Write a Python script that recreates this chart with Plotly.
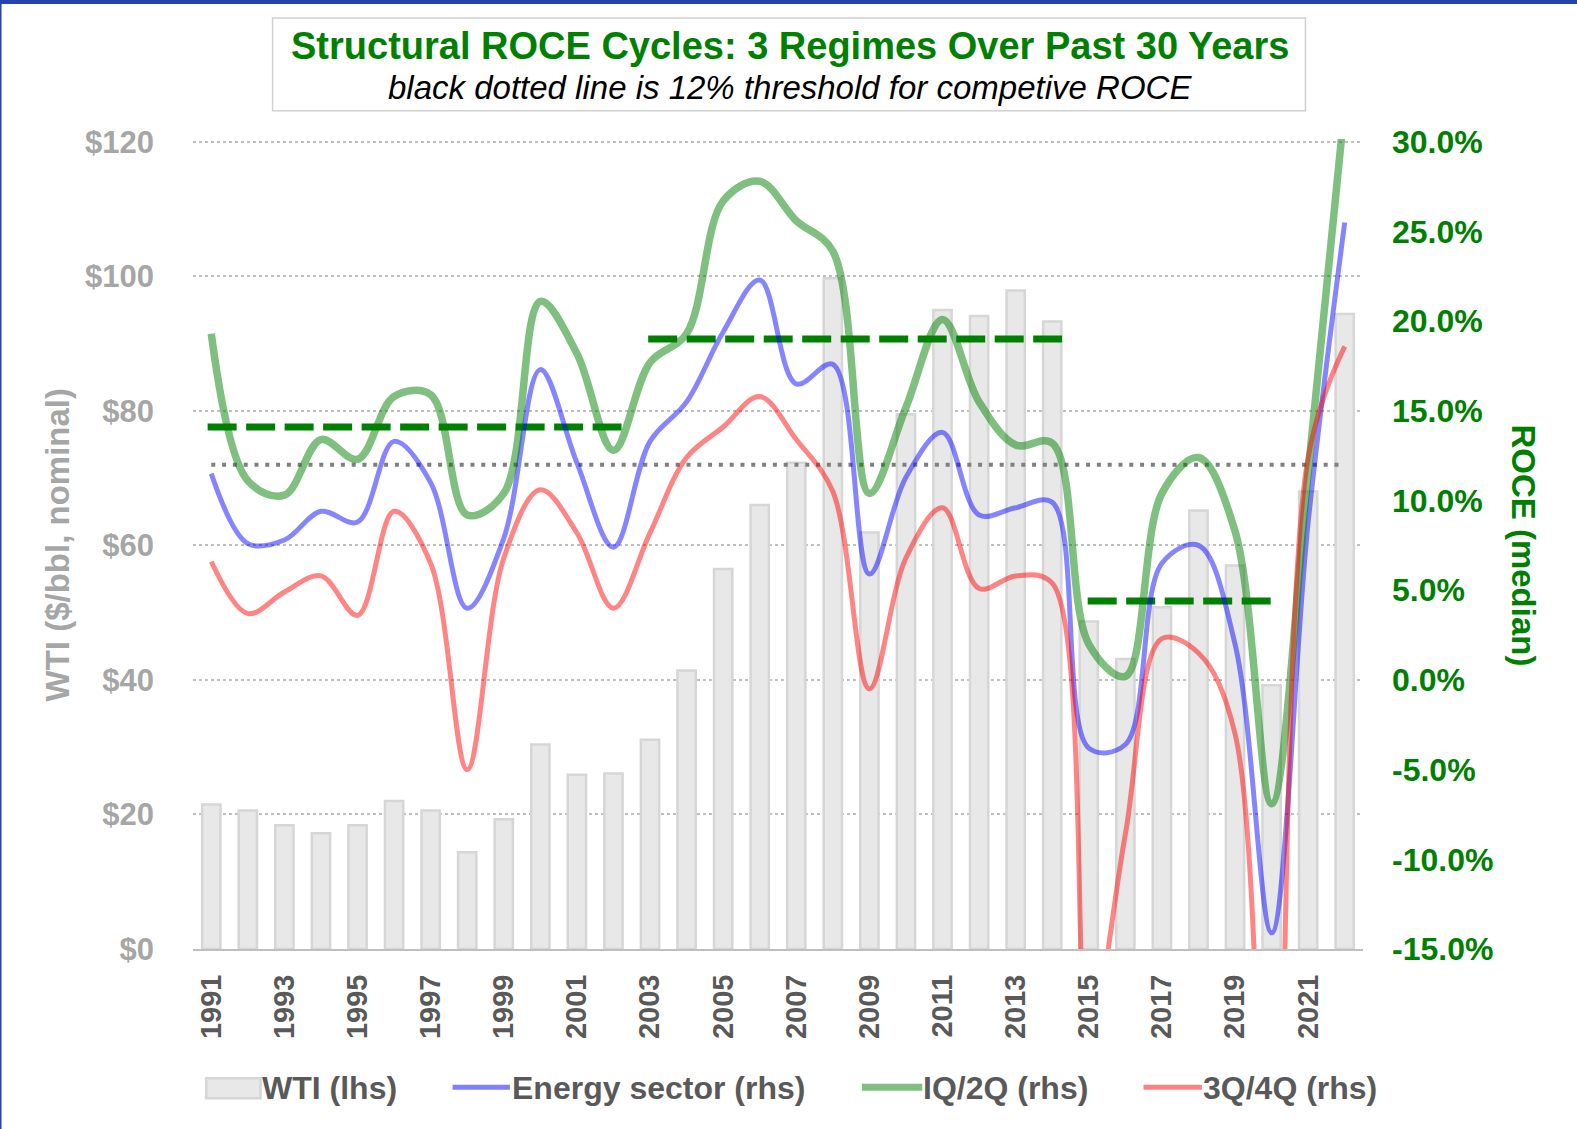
import plotly.graph_objects as go

years = list(range(1991, 2023))
wti = [21.5, 20.6, 18.4, 17.2, 18.4, 22.0, 20.6, 14.4, 19.3, 30.4, 25.9, 26.1, 31.1, 41.4,
       56.5, 66.0, 72.3, 99.7, 61.9, 79.5, 95.0, 94.1, 97.9, 93.3, 48.7, 43.1, 50.8, 65.2,
       57.0, 39.2, 68.0, 94.4]
energy = [11.5, 7.6, 7.8, 9.4, 8.8, 13.3, 11.0, 4.0, 7.9, 17.3, 12.1, 7.4, 13.3, 15.5,
          19.4, 22.3, 16.5, 17.6, 5.9, 11.3, 13.8, 9.2, 9.6, 9.9, -3.8, -3.6, 6.5, 7.5,
          2.0, -14.1, 8.8, 25.5]
h1 = [19.3, 11.1, 10.3, 13.4, 12.3, 15.8, 15.9, 9.2, 10.4, 21.1, 18.2, 12.8, 17.7, 19.3,
      26.7, 27.8, 25.6, 23.9, 10.4, 15.2, 20.1, 15.5, 13.1, 13.2, 2.0, 0.2, 10.4, 12.4,
      8.3, -6.9, 11.6, 32.0]
h2 = [6.6, 3.7, 4.9, 5.8, 3.6, 9.4, 6.5, -5.0, 6.8, 10.6, 8.2, 4.0, 8.2, 12.4,
      14.1, 15.8, 13.4, 10.5, -0.5, 6.8, 9.6, 5.1, 5.8, 5.4, -20.0, -8.6, 2.3, 1.5,
      -3.0, -40.0, 12.4, 18.6]

regime_start = [1990.9, 2002.95, 2014.97]
regime_end = [2002.22, 2014.27, 2020.0]
regime_level = [14.1, 19.0, 4.4]

threshold = 12.0
threshold_years = [1991, 2022]

x_tickvals = list(range(1991, 2022, 2))
x_ticktext = [str(y) for y in x_tickvals]
y1_tickvals = [0, 20, 40, 60, 80, 100, 120]
y1_ticktext = ["$0", "$20", "$40", "$60", "$80", "$100", "$120"]
y2_tickvals = [-15, -10, -5, 0, 5, 10, 15, 20, 25, 30]
y2_ticktext = ["-15.0%", "-10.0%", "-5.0%", "0.0%", "5.0%", "10.0%", "15.0%", "20.0%", "25.0%", "30.0%"]

legend_names = ["WTI (lhs)", "Energy sector (rhs)", "IQ/2Q (rhs)", "3Q/4Q (rhs)"]

FONT = "Liberation Sans, Arial, sans-serif"
GREEN = "#008000"
GRAY_TXT = "#595959"
BAR_FILL = "#E8E8E8"
BAR_LINE = "#D6D6D6"
BLUE_L = "rgba(0,0,255,0.48)"
GREEN_L = "rgba(0,128,0,0.5)"
RED_L = "rgba(255,0,0,0.48)"

S = 1577 / 1568.0  # reference was measured on a shrunk copy

fig = go.Figure()
fig.add_trace(go.Bar(x=years, y=wti, name=legend_names[0], width=0.5,
                     marker=dict(color=BAR_FILL, line=dict(color=BAR_LINE, width=2.5)),
                     yaxis="y"))

for i in range(len(regime_start)):
    fig.add_trace(go.Scatter(x=[regime_start[i], regime_end[i]],
                             y=[regime_level[i], regime_level[i]], mode="lines",
                             line=dict(color=GREEN, width=7, dash="29px,9.5px"),
                             hoverinfo="skip", yaxis="y2"))

fig.add_trace(go.Scatter(x=threshold_years, y=[threshold, threshold], mode="lines",
                         line=dict(color="#7F7F7F", width=4, dash="4px,6.8px"),
                         hoverinfo="skip", yaxis="y2"))

fig.add_trace(go.Scatter(x=years, y=energy, name=legend_names[1], mode="lines",
                         line=dict(color=BLUE_L, width=5, shape="spline", smoothing=1),
                         yaxis="y2"))
fig.add_trace(go.Scatter(x=years, y=h1, name=legend_names[2], mode="lines",
                         line=dict(color=GREEN_L, width=7.5, shape="spline", smoothing=1),
                         yaxis="y2"))
fig.add_trace(go.Scatter(x=years, y=h2, name=legend_names[3], mode="lines",
                         line=dict(color=RED_L, width=5, shape="spline", smoothing=1),
                         yaxis="y2"))

# plot area in actual pixels
L = round(192 * S)
R = round(1355 * S)
GRID_TOP = 141 * S
B = round(944 * S)
T = round(GRID_TOP) - 3
pw, ph = R - L, B - T
yr_top = 120 * ph / (B - GRID_TOP)
y2_top = -15 + 45 * ph / (B - GRID_TOP)


def px(x):
    return (x * S - L) / pw


def py(y):
    return (B - y * S) / ph


fig.update_layout(
    width=1577, height=1129,
    margin=dict(l=L, r=1577 - R, t=T, b=1129 - B),
    paper_bgcolor="white", plot_bgcolor="white",
    font=dict(family=FONT, color=GRAY_TXT),
    showlegend=False,
    xaxis=dict(range=[1990.5, 2022.5], tickvals=x_tickvals, ticktext=x_ticktext,
               tickangle=-90, tickfont=dict(size=29, color=GRAY_TXT, family=FONT, weight="bold"),
               showgrid=False, zeroline=False, showline=True, linecolor="#BFBFBF", linewidth=2,
               ticks="", ticklabelstandoff=12),
    yaxis=dict(range=[0, yr_top], tickvals=y1_tickvals, ticktext=y1_ticktext,
               tickfont=dict(size=31, color="#A6A6A6", family=FONT, weight="bold"),
               showgrid=True, gridcolor="#BFBFBF", griddash="dot", gridwidth=1.5,
               zeroline=False, showline=False, ticks="", ticklabelstandoff=38),
    yaxis2=dict(range=[-15, y2_top], tickvals=y2_tickvals, ticktext=y2_ticktext,
                overlaying="y", side="right",
                tickfont=dict(size=32, color=GREEN, family=FONT, weight="bold"),
                showgrid=False, zeroline=False, showline=False, ticks="", ticklabelstandoff=28),
)

# title box and frame
fig.add_shape(type="rect", xref="paper", yref="paper",
              x0=px(271), x1=px(1298), y0=py(110), y1=py(18),
              line=dict(color="#D0D0D0", width=1.5), fillcolor="white", layer="below")
fig.add_shape(type="rect", xref="paper", yref="paper",
              x0=px(0), x1=px(1568), y0=py(4), y1=py(0),
              line=dict(width=0), fillcolor="#2542B0")
fig.add_shape(type="rect", xref="paper", yref="paper",
              x0=px(0), x1=px(1.5), y0=py(1123), y1=py(0),
              line=dict(width=0), fillcolor="#2542B0")

fig.add_annotation(xref="paper", yref="paper", x=px(785), y=py(46),
                   text="<b>Structural ROCE Cycles: 3 Regimes Over Past 30 Years</b>",
                   showarrow=False, font=dict(size=38, color=GREEN, family=FONT),
                   xanchor="center", yanchor="middle")
fig.add_annotation(xref="paper", yref="paper", x=px(785), y=py(87),
                   text="<i>black dotted line is 12% threshold for competive ROCE</i>",
                   showarrow=False, font=dict(size=33, color="black", family=FONT),
                   xanchor="center", yanchor="middle")
fig.add_annotation(xref="paper", yref="paper", x=px(57), y=py(542),
                   text="<b>WTI ($/bbl, nominal)</b>", textangle=-90,
                   showarrow=False, font=dict(size=33, color="#A6A6A6", family=FONT),
                   xanchor="center", yanchor="middle")
fig.add_annotation(xref="paper", yref="paper", x=px(1515), y=py(542),
                   text="<b>ROCE (median)</b>", textangle=90,
                   showarrow=False, font=dict(size=33, color=GREEN, family=FONT),
                   xanchor="center", yanchor="middle")

# custom legend
LEG_Y = 1082
fig.add_shape(type="rect", xref="paper", yref="paper",
              x0=px(205), x1=px(259), y0=py(1092), y1=py(1072),
              line=dict(color=BAR_LINE, width=2.5), fillcolor=BAR_FILL)
leg_lines = [(450, 507, "#8080FF", 5), (857, 917, "#80BF80", 7), (1137, 1195, "#FF8080", 5)]
for x0, x1, c, w in leg_lines:
    fig.add_shape(type="line", xref="paper", yref="paper",
                  x0=px(x0), x1=px(x1), y0=py(1081), y1=py(1081),
                  line=dict(color=c, width=w))
leg_text_x = [261, 509, 918, 1196]
for name, tx in zip(legend_names, leg_text_x):
    fig.add_annotation(xref="paper", yref="paper", x=px(tx), y=py(LEG_Y),
                       text="<b>" + name + "</b>", showarrow=False,
                       font=dict(size=32, color=GRAY_TXT, family=FONT),
                       xanchor="left", yanchor="middle", xshift=-2)

fig.write_html("out.html", config={"displayModeBar": False},
               post_script="document.body.style.margin='0';document.body.style.overflow='hidden';")
